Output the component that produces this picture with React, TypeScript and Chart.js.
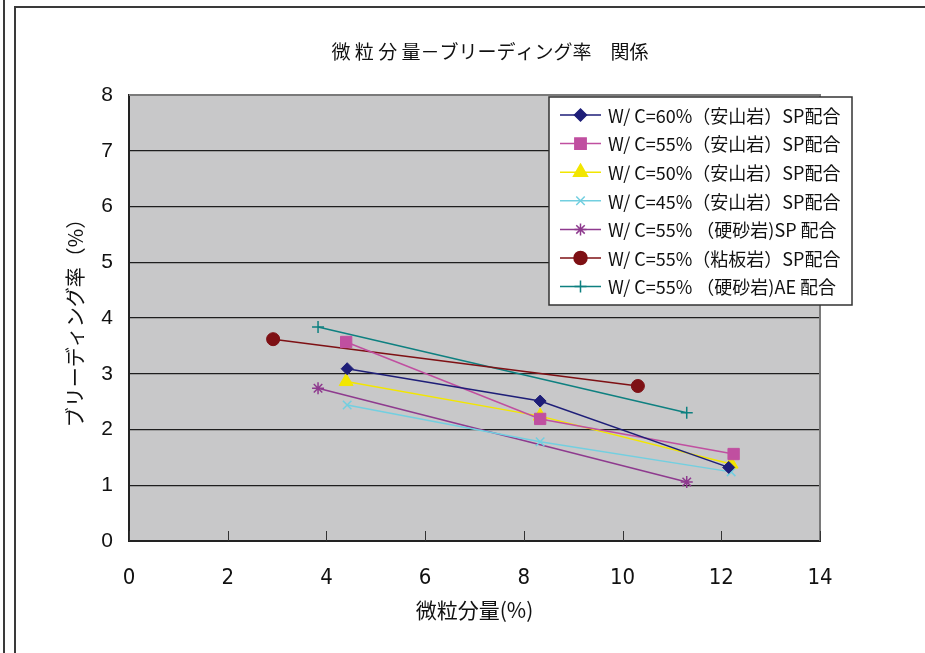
import React, { useEffect, useRef } from 'react';
import { Chart, registerables } from 'chart.js';
import { drawPoint } from 'chart.js/helpers';

Chart.register(...registerables);

const TITLE = '微 粒 分 量－ブリーディング率　関係';
const X_TITLE = '微粒分量(%)';
const Y_TITLE = 'ブリーディング率（%）';
const X_TICKS = [0, 2, 4, 6, 8, 10, 12, 14];
const Y_TICKS = [0, 1, 2, 3, 4, 5, 6, 7, 8];

const LABELS = [
  'W/ C=60%（安山岩）SP配合',
  'W/ C=55%（安山岩）SP配合',
  'W/ C=50%（安山岩）SP配合',
  'W/ C=45%（安山岩）SP配合',
  'W/ C=55% （硬砂岩)SP 配合',
  'W/ C=55%（粘板岩）SP配合',
  'W/ C=55% （硬砂岩)AE 配合',
];

const X60 = [4.42, 8.33, 12.15];
const Y60 = [3.09, 2.51, 1.32];
const X55A = [4.4, 8.33, 12.25];
const Y55A = [3.57, 2.19, 1.56];
const X50 = [4.4, 8.33, 12.2];
const Y50 = [2.86, 2.24, 1.38];
const X45 = [4.42, 8.33, 12.2];
const Y45 = [2.44, 1.78, 1.24];
const X55K = [3.83, 11.3];
const Y55K = [2.74, 1.06];
const X55N = [2.92, 10.31];
const Y55N = [3.62, 2.78];
const X55AE = [3.83, 11.3];
const Y55AE = [3.84, 2.3];

const COLORS = ['#1E1E78', '#C04FA0', '#F2E600', '#72CFE0', '#8E3A8E', '#7E1014', '#0E8080'];
const STYLES = ['rectRot', 'rect', 'triangle', 'crossRot', 'star', 'circle', 'cross'];
const RADII = [6, 8, 8, 6, 6, 6.5, 6];

const XS = [X60, X55A, X50, X45, X55K, X55N, X55AE];
const YS = [Y60, Y55A, Y50, Y45, Y55K, Y55N, Y55AE];

const JP = '"Noto Sans CJK JP", "Noto Sans", sans-serif';

const decor = {
  id: 'decor',
  beforeDraw(chart: any) {
    const { ctx, chartArea: a } = chart;
    ctx.save();
    ctx.fillStyle = '#ffffff';
    ctx.fillRect(0, 0, chart.width, chart.height);
    ctx.fillStyle = '#C8C8C9';
    ctx.fillRect(a.left, a.top, a.right - a.left, a.bottom - a.top);
    ctx.restore();
  },
  beforeDatasetsDraw(chart: any) {
    const { ctx, chartArea: a, scales } = chart;
    ctx.save();
    ctx.strokeStyle = '#7a7a7a';
    ctx.lineWidth = 2;
    ctx.beginPath();
    ctx.moveTo(a.left, a.top);
    ctx.lineTo(a.right, a.top);
    ctx.lineTo(a.right, a.bottom);
    ctx.stroke();
    ctx.strokeStyle = '#333';
    ctx.lineWidth = 1;
    X_TICKS.forEach((v) => {
      const px = Math.round(scales.x.getPixelForValue(v)) + 0.5;
      ctx.beginPath();
      ctx.moveTo(px, a.bottom);
      ctx.lineTo(px, a.bottom - 10);
      ctx.stroke();
    });
    ctx.restore();
  },
  afterDraw(chart: any) {
    const { ctx } = chart;
    ctx.save();
    ctx.strokeStyle = '#3a3a3a';
    ctx.lineWidth = 2;
    ctx.beginPath();
    ctx.moveTo(4, 0);
    ctx.lineTo(4, chart.height);
    ctx.moveTo(15, chart.height);
    ctx.lineTo(15, 7);
    ctx.lineTo(chart.width, 7);
    ctx.stroke();

    ctx.fillStyle = '#111';
    ctx.font = `19px ${JP}`;
    ctx.textAlign = 'center';
    ctx.textBaseline = 'middle';
    ctx.fillText(TITLE, 490, 52);

    const lx = 549, ly = 97, lw = 303, lh = 208;
    ctx.fillStyle = '#ffffff';
    ctx.fillRect(lx, ly, lw, lh);
    ctx.strokeStyle = '#333';
    ctx.lineWidth = 1.5;
    ctx.strokeRect(lx, ly, lw, lh);
    chart.data.datasets.forEach((ds: any, i: number) => {
      const y = 115 + i * 28.6;
      ctx.strokeStyle = ds.borderColor;
      ctx.lineWidth = 1.5;
      ctx.beginPath();
      ctx.moveTo(560, y);
      ctx.lineTo(601, y);
      ctx.stroke();
      ctx.fillStyle = ds.backgroundColor;
      ctx.strokeStyle = ds.borderColor;
      drawPoint(ctx, { pointStyle: ds.pointStyle, radius: ds.pointRadius, rotation: 0, borderWidth: ds.pointBorderWidth ?? 1 }, 580.5, y);
      ctx.fillStyle = '#111';
      ctx.font = `18px ${JP}`;
      ctx.textAlign = 'left';
      ctx.textBaseline = 'middle';
      ctx.fillText(ds.label, 608, y + 1);
    });
    ctx.restore();
  },
};

export default function App() {
  const ref = useRef<HTMLCanvasElement>(null);
  useEffect(() => {
    if (!ref.current) return;
    const datasets = LABELS.map((label, i) => ({
      label,
      data: XS[i].map((x, j) => ({ x, y: YS[i][j] })),
      borderColor: COLORS[i],
      backgroundColor: COLORS[i],
      borderWidth: 1.5,
      pointStyle: STYLES[i],
      pointRadius: RADII[i],
      pointBorderWidth: STYLES[i] === 'crossRot' || STYLES[i] === 'cross' || STYLES[i] === 'star' ? 1.5 : 1,
      pointHoverRadius: RADII[i],
      showLine: true,
      tension: 0,
    }));
    const chart = new Chart(ref.current, {
      type: 'scatter',
      data: { datasets },
      options: {
        animation: false,
        responsive: false,
        devicePixelRatio: 1,
        layout: { padding: { top: 95, right: 105, bottom: 0, left: 0 } },
        plugins: { legend: { display: false }, title: { display: false }, tooltip: { enabled: false } },
        scales: {
          x: {
            type: 'linear',
            min: 0,
            max: 14,
            afterBuildTicks: (s: any) => { s.ticks = X_TICKS.map((v) => ({ value: v })); },
            afterFit: (s: any) => { s.height = 112; },
            grid: { display: false, drawTicks: false },
            border: { display: true, color: '#222', width: 2 },
            ticks: {
              padding: 24,
              color: '#111',
              font: { family: '"Liberation Sans Narrow", "DejaVu Sans Condensed", "Liberation Sans", sans-serif', size: 22 },
            },
            title: {
              display: true,
              text: X_TITLE,
              color: '#111',
              font: { family: JP, size: 21 },
              padding: { top: 0, bottom: 30 },
            },
          },
          y: {
            type: 'linear',
            min: 0,
            max: 8,
            afterBuildTicks: (s: any) => { s.ticks = Y_TICKS.map((v) => ({ value: v })); },
            afterFit: (s: any) => { s.width = 129; },
            grid: {
              drawTicks: false,
              color: (c: any) => (c.tick && (c.tick.value === 8 || c.tick.value === 0) ? 'rgba(0,0,0,0)' : '#1e1e1e'),
              lineWidth: 1.2,
            },
            border: { display: true, color: '#222', width: 2 },
            ticks: {
              padding: 16,
              color: '#111',
              font: { family: '"Liberation Sans", Arial, sans-serif', size: 21 },
            },
            title: {
              display: true,
              text: Y_TITLE,
              color: '#111',
              font: { family: JP, size: 20 },
              padding: { top: 63, bottom: 0 },
            },
          },
        },
      },
      plugins: [decor],
    } as any);
    return () => chart.destroy();
  }, []);
  return (
    <div style={{ position: 'fixed', left: 0, top: 0, width: 925, height: 653, background: '#fff' }}>
      <canvas ref={ref} width={925} height={653} style={{ display: 'block', width: 925, height: 653 }} />
    </div>
  );
}
